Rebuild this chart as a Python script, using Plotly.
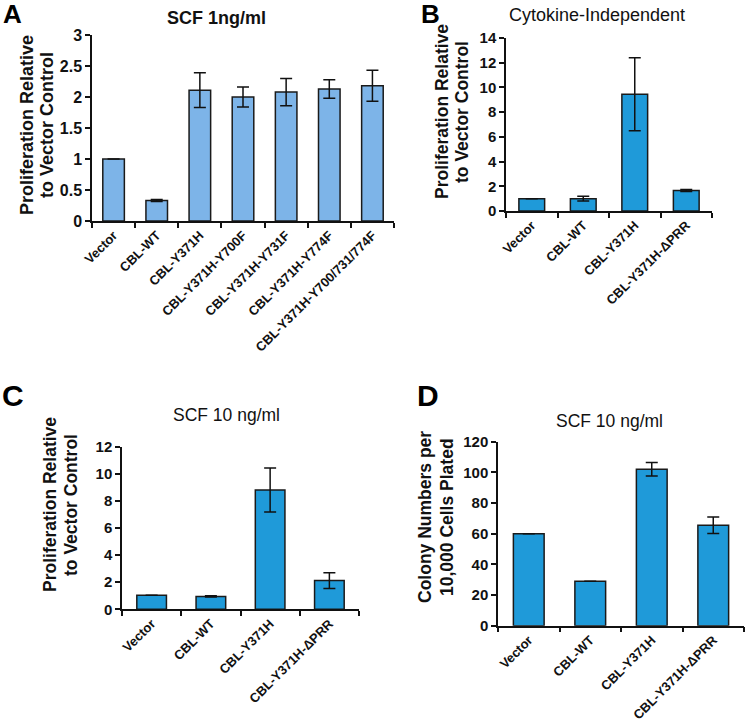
import plotly.graph_objects as go

# ---------------- data ----------------
cats_a = ["Vector", "CBL-WT", "CBL-Y371H", "CBL-Y371H-Y700F", "CBL-Y371H-Y731F",
          "CBL-Y371H-Y774F", "CBL-Y371H-Y700/731/774F"]
vals_a = [1.0, 0.33, 2.11, 2.00, 2.08, 2.13, 2.18]
errs_a = [0.0, 0.015, 0.28, 0.16, 0.22, 0.15, 0.25]

cats_b = ["Vector", "CBL-WT", "CBL-Y371H", "CBL-Y371H-ΔPRR"]
vals_b = [1.0, 1.0, 9.45, 1.65]
errs_b = [0.0, 0.2, 2.95, 0.08]

cats_c = ["Vector", "CBL-WT", "CBL-Y371H", "CBL-Y371H-ΔPRR"]
vals_c = [1.03, 0.95, 8.8, 2.12]
errs_c = [0.0, 0.05, 1.62, 0.58]

cats_d = ["Vector", "CBL-WT", "CBL-Y371H", "CBL-Y371H-ΔPRR"]
vals_d = [60, 29, 102, 65.5]
errs_d = [0, 0, 4.4, 5.4]

ticks_a = [0, 0.5, 1, 1.5, 2, 2.5, 3]
ticks_b = [0, 2, 4, 6, 8, 10, 12, 14]
ticks_c = [0, 2, 4, 6, 8, 10, 12]
ticks_d = [0, 20, 40, 60, 80, 100, 120]

# ---------------- layout helpers ----------------
W, H = 745, 726
FONT = "Arial, Liberation Sans, sans-serif"
LIGHT = "#7db4e8"
DARK = "#1f9ad9"


def px_x(p):
    return p / W


def px_y(p):
    return 1 - p / H


fig = go.Figure()

panels = [
    # cats, vals, errs, color, ticks, yrange, xdom(px), ydom(px top,bottom), ytick size
    (cats_a, vals_a, errs_a, LIGHT, ticks_a, [0, 3], (92, 394), (35, 221), 16),
    (cats_b, vals_b, errs_b, DARK, ticks_b, [0, 14], (506, 712), (38, 211), 15),
    (cats_c, vals_c, errs_c, DARK, ticks_c, [0, 12], (122, 359), (446.7, 609.3), 15),
    (cats_d, vals_d, errs_d, DARK, ticks_d, [0, 120], (498, 744), (441.7, 625.7), 15),
]

for i, (cats, vals, errs, col, ticks, yr, xd, yd, ts) in enumerate(panels):
    n = i + 1
    xa = "x" if n == 1 else f"x{n}"
    ya = "y" if n == 1 else f"y{n}"
    fig.add_trace(go.Bar(
        x=cats, y=vals, xaxis=xa, yaxis=ya, width=0.5,
        marker=dict(color=col, line=dict(color="#1a1a1a", width=1.5)),
        error_y=dict(type="data", array=errs, visible=True, color="#111",
                     thickness=1.5, width=6),
        showlegend=False, hoverinfo="skip",
    ))
    xkey = "xaxis" if n == 1 else f"xaxis{n}"
    ykey = "yaxis" if n == 1 else f"yaxis{n}"
    fig.update_layout(**{
        xkey: dict(
            domain=[px_x(xd[0]), px_x(xd[1])], anchor=ya, type="category",
            range=[-0.5, len(cats) - 0.5], showline=True, linecolor="#111",
            linewidth=1.5, ticks="outside", tickson="boundaries", ticklen=5,
            tickwidth=1.5, tickcolor="#111", tickangle=-45, showgrid=False,
            zeroline=False, automargin=False,
            tickfont=dict(family=FONT, size=13, color="#111", weight="bold"),
        ),
        ykey: dict(
            domain=[px_y(yd[1]), px_y(yd[0])], anchor=xa, range=yr,
            tickvals=ticks, showline=True, linecolor="#111", linewidth=1.5,
            ticks="outside", ticklen=5, tickwidth=1.5, tickcolor="#111",
            showgrid=False, zeroline=False, automargin=False,
            tickfont=dict(family=FONT, size=ts, color="#111", weight="bold"),
        ),
    })

annots = []
# panel letters
for txt, x, y, s in [("A", 13, 14, 26), ("B", 430, 14, 26), ("C", 13, 396, 30), ("D", 428, 395, 30)]:
    annots.append(dict(text=f"<b>{txt}</b>", x=px_x(x), y=px_y(y), xref="paper", yref="paper",
                       xanchor="center", yanchor="middle", showarrow=False,
                       font=dict(family=FONT, size=s, color="#000")))
# titles
for txt, x, y, bold, s in [("SCF 1ng/ml", 217, 18, True, 18),
                           ("Cytokine-Independent", 597, 15, False, 18),
                           ("SCF 10 ng/ml", 226, 415, False, 17.5),
                           ("SCF 10 ng/ml", 609, 421, False, 17.5)]:
    t = f"<b>{txt}</b>" if bold else txt
    annots.append(dict(text=t, x=px_x(x), y=px_y(y), xref="paper", yref="paper",
                       xanchor="center", yanchor="middle", showarrow=False,
                       font=dict(family=FONT, size=s, color="#111")))
# y-axis titles (one annotation per line)
for l1, l2, x1, x2, y, s in [("Proliferation Relative", "to Vector Control", 27, 47, 125, 18),
                             ("Proliferation Relative", "to Vector Control", 442, 462, 112, 17.5),
                             ("Proliferation Relative", "to Vector Control", 50, 71, 505, 17.5),
                             ("Colony Numbers per", "10,000 Cells Plated", 425, 447, 517, 17.5)]:
    for txt, x in ((l1, x1), (l2, x2)):
        annots.append(dict(text=f"<b>{txt}</b>", x=px_x(x), y=px_y(y), xref="paper", yref="paper",
                           xanchor="center", yanchor="middle", showarrow=False, textangle=-90,
                           font=dict(family=FONT, size=s, color="#111")))

fig.update_layout(
    template="none",
    width=W, height=H, autosize=False,
    margin=dict(l=0, r=0, t=0, b=0, pad=0, autoexpand=False),
    paper_bgcolor="white", plot_bgcolor="white",
    annotations=annots, bargap=0.5, showlegend=False,
)

fig.write_html(
    "out.html",
    config={"displayModeBar": False, "responsive": False},
    post_script="document.body.style.margin='0';document.body.style.overflow='hidden';",
)
